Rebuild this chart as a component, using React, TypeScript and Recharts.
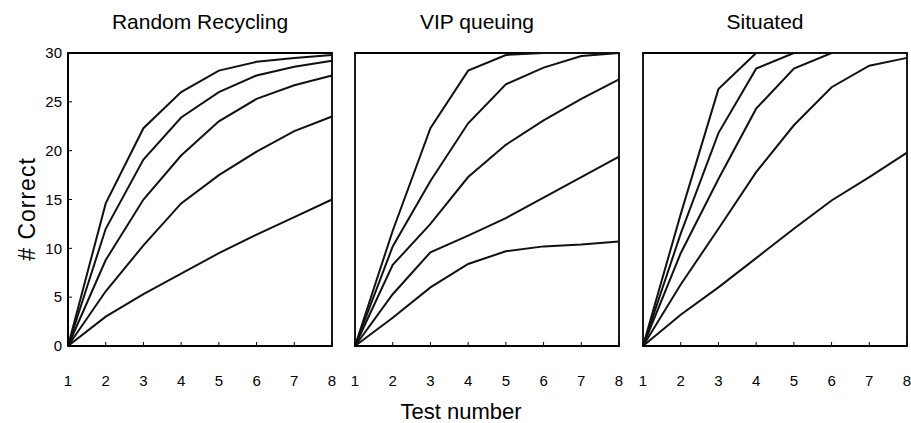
import React from 'react';
import { LineChart, Line, XAxis, YAxis, ReferenceArea } from 'recharts';

const tests = [1, 2, 3, 4, 5, 6, 7, 8];
const yTicks = [0, 5, 10, 15, 20, 25, 30];
const panelTitles = ['Random Recycling', 'VIP queuing', 'Situated'];

// Random Recycling
const rr1 = [0, 14.6, 22.3, 26.0, 28.2, 29.1, 29.5, 29.8];
const rr2 = [0, 12.0, 19.1, 23.4, 26.0, 27.7, 28.6, 29.2];
const rr3 = [0, 8.8, 15.0, 19.5, 23.0, 25.3, 26.7, 27.7];
const rr4 = [0, 5.6, 10.3, 14.6, 17.5, 19.9, 22.0, 23.5];
const rr5 = [0, 3.0, 5.3, 7.4, 9.5, 11.4, 13.2, 15.0];

// VIP queuing
const vq1 = [0, 11.8, 22.3, 28.2, 29.8, 30, 30, 30];
const vq2 = [0, 10.2, 16.9, 22.8, 26.8, 28.5, 29.7, 30];
const vq3 = [0, 8.3, 12.5, 17.3, 20.6, 23.1, 25.3, 27.3];
const vq4 = [0, 5.3, 9.6, 11.3, 13.1, 15.2, 17.3, 19.4];
const vq5 = [0, 2.9, 6.0, 8.4, 9.7, 10.2, 10.4, 10.7];

// Situated
const st1 = [0, 13.5, 26.3, 30, 30, 30, 30, 30];
const st2 = [0, 11.5, 21.8, 28.4, 30, 30, 30, 30];
const st3 = [0, 9.5, 17.1, 24.3, 28.4, 30, 30, 30];
const st4 = [0, 6.3, 12.0, 17.8, 22.6, 26.5, 28.7, 29.5];
const st5 = [0, 3.2, 6.0, 9.0, 12.0, 14.9, 17.3, 19.8];

const build = (series: number[][]) =>
  tests.map((t, i) => {
    const row: Record<string, number> = { t };
    series.forEach((s, k) => {
      row['s' + (k + 1)] = s[i];
    });
    return row;
  });

const panels = [
  build([rr1, rr2, rr3, rr4, rr5]),
  build([vq1, vq2, vq3, vq4, vq5]),
  build([st1, st2, st3, st4, st5]),
];

const FONT = '"Liberation Sans", Arial, Helvetica, sans-serif';
const TOP = 53;
const H = 423;
const XAXIS_H = 77;

type PanelProps = {
  data: Record<string, number>[];
  left: number;
  width: number;
  marginLeft: number;
  marginRight: number;
  yLabels: boolean;
};

function Panel({ data, left, width, marginLeft, marginRight, yLabels }: PanelProps) {
  return (
    <div style={{ position: 'absolute', left, top: 0 }}>
      <LineChart
        width={width}
        height={H}
        data={data}
        margin={{ top: TOP, right: marginRight, left: marginLeft, bottom: 0 }}
      >
        <XAxis
          dataKey="t"
          type="number"
          domain={[1, 8]}
          ticks={tests}
          interval={0}
          height={XAXIS_H}
          tickSize={-4}
          tickMargin={33}
          stroke="#000"
          axisLine={{ stroke: '#000', strokeWidth: 1.8 }}
          tickLine={{ stroke: '#000', strokeWidth: 1 }}
          tick={{ fill: '#000', fontSize: 15, fontFamily: FONT }}
        />
        <YAxis
          type="number"
          domain={[0, 30]}
          ticks={yTicks}
          interval={0}
          width={yLabels ? 68 : 0}
          tickSize={-4}
          tickMargin={10}
          stroke="#000"
          axisLine={{ stroke: '#000', strokeWidth: 1.8 }}
          tickLine={{ stroke: '#000', strokeWidth: 1 }}
          tickFormatter={yLabels ? undefined : () => ''}
          tick={{ fill: '#000', fontSize: 15, fontFamily: FONT }}
        />
        <ReferenceArea
          x1={1}
          x2={8}
          y1={0}
          y2={30}
          fill="none"
          fillOpacity={0}
          stroke="#000"
          strokeWidth={1.8}
        />
        {['s1', 's2', 's3', 's4', 's5'].map((k) => (
          <Line
            key={k}
            type="linear"
            dataKey={k}
            stroke="#111"
            strokeWidth={2}
            dot={false}
            activeDot={false}
            isAnimationActive={false}
          />
        ))}
      </LineChart>
    </div>
  );
}

export default function App() {
  return (
    <div
      style={{
        position: 'absolute',
        left: 0,
        top: 0,
        width: 911,
        height: H,
        background: '#fff',
        fontFamily: FONT,
      }}
    >
      <Panel data={panels[0]} left={0} width={340} marginLeft={0} marginRight={8} yLabels={true} />
      <Panel data={panels[1]} left={347} width={280} marginLeft={8} marginRight={8} yLabels={false} />
      <Panel data={panels[2]} left={635} width={276} marginLeft={8} marginRight={4} yLabels={false} />
      <svg
        width={911}
        height={H}
        style={{ position: 'absolute', left: 0, top: 0, pointerEvents: 'none' }}
      >
        <text x={200} y={29} textAnchor="middle" fontSize={21} fontFamily={FONT} fill="#000">
          {panelTitles[0]}
        </text>
        <text x={477} y={29} textAnchor="middle" fontSize={21} fontFamily={FONT} fill="#000">
          {panelTitles[1]}
        </text>
        <text x={765} y={29} textAnchor="middle" fontSize={21} fontFamily={FONT} fill="#000">
          {panelTitles[2]}
        </text>
        <text x={461} y={419} textAnchor="middle" fontSize={22} fontFamily={FONT} fill="#000">
          Test number
        </text>
        <text
          x={0}
          y={0}
          transform="translate(35 209) rotate(-90)"
          textAnchor="middle"
          fontSize={23}
          letterSpacing={1}
          fontFamily={FONT}
          fill="#000"
        >
          # Correct
        </text>
      </svg>
    </div>
  );
}
